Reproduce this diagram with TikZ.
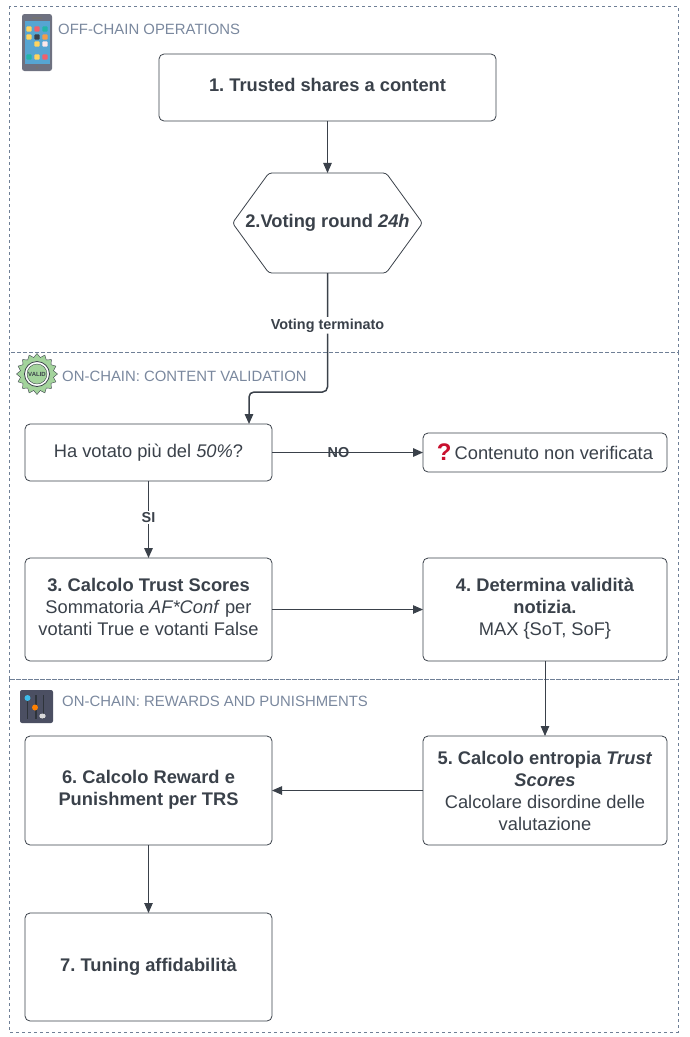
\documentclass[tikz,border=0pt]{standalone}
\usepackage{fontspec}
\setmainfont{Liberation Sans}
\usetikzlibrary{arrows.meta,positioning,shapes.geometric,shapes.symbols}
\definecolor{ink}{HTML}{3A414A}
\definecolor{zoneline}{HTML}{6F7F96}
\definecolor{zonetext}{HTML}{7A889E}
\definecolor{phonebody}{HTML}{6E7180}
\definecolor{phonescreen}{HTML}{56A5D2}
\definecolor{validgreen}{HTML}{A3D39C}
\definecolor{slidebg}{HTML}{4B4F62}
\definecolor{warnred}{HTML}{C8102E}
\definecolor{appa}{HTML}{FFD45E}
\definecolor{appb}{HTML}{F0606B}
\definecolor{appc}{HTML}{22B5A8}
\definecolor{appd}{HTML}{F39C4A}
\definecolor{knob}{HTML}{3DBDEB}
\newcommand{\PX}[1]{\fontsize{#1}{22}\selectfont}
\newcommand{\LIFT}{\\[-17.5pt]\mbox{}}
\frenchspacing

\begin{document}
\begin{tikzpicture}[
  x=1pt, y=-1pt,
  stepbox/.style={draw=ink, line width=0.8pt, rounded corners=5pt, minimum width=247pt, minimum height=103pt,
               inner sep=0pt, outer sep=0pt, align=center,
               text=ink, font=\PX{18.3}},
  zone/.style={draw=zoneline, line width=0.8pt, dash pattern=on 3pt off 3pt},
  zonelabel/.style={anchor=west, text=zonetext, font=\PX{14.9}, inner sep=0pt},
  link/.style={-{Triangle[length=10pt,width=8.5pt]}, ink, line width=0.8pt},
  boldlink/.style={link, line width=1.5pt},
  edgelabel/.style={font=\PX{14.4}\bfseries, text=ink, inner sep=1.5pt}
]
  \useasboundingbox (0,0) rectangle (689,1037);

  % Zones
  \draw[zone] (9,6) rectangle (678,352);
  \draw[zone] (9,352) rectangle (678,679);
  \draw[zone] (9,679) rectangle (678,1032);

  \node[zonelabel] (offlabel) at (58,29) {OFF-CHAIN OPERATIONS};
  \node[zonelabel] (validlabel) at (62,376) {ON-CHAIN: CONTENT VALIDATION};
  \node[zonelabel] (rewardlabel) at (62,701) {ON-CHAIN: REWARDS AND PUNISHMENTS};

  % Phone icon
  \fill[phonebody, rounded corners=2.5pt] (22,14) rectangle (52,71);
  \fill[phonescreen] (24.5,21) rectangle (49.5,64);
  \fill[black!55] (32,17) rectangle (42,18.5);
  \fill[black!55] (37,67.5) circle (1.5);
  \foreach \x/\y/\c in {29/29/appa, 37/29/appb, 45/29/appc,
                        29/37/appa, 37/37/ink, 45/37/appd,
                        29/44/phonescreen, 37/44/appa, 45/44/appb!15,
                        29/57/appc, 37/57/appa, 45/57/appb}
    \fill[\c, rounded corners=1pt] (\x-2.7,\y-2.7) rectangle (\x+2.7,\y+2.7);

  % Valid badge
  \node[star, star points=16, star point ratio=1.22, minimum size=41pt, inner sep=0pt,
        draw=ink, fill=validgreen] (badge) at (37,374) {};
  \draw[ink, line width=0.8pt, fill=white] (badge.center) circle (12.5);
  \node[circle, draw=ink, fill=validgreen, minimum size=20pt, inner sep=0pt,
        font=\PX{6}\bfseries, text=ink] (badgetext) at (badge.center) {VALID};

  % Sliders icon
  \fill[slidebg, rounded corners=2pt] (20,690) rectangle (53,723);
  \foreach \x in {27.5,36,43.5}
    \draw[ink!80!black, line width=1.4pt] (\x,695) -- (\x,719);
  \fill[knob] (27.5,698) circle (3);
  \fill[orange] (35,707.5) circle (3);
  \fill[black!15] (42.5,716) ellipse (3.2 and 2.5);

  % Steps
  \node[stepbox, minimum width=337pt, minimum height=67pt] (trust) at (327.5,87.5) {\textbf{1. Trusted shares a content}\LIFT};
  \node[draw=ink, line width=0.8pt, signal, signal to=east and west, signal pointer angle=108, rounded corners=3pt,
        minimum width=190pt, minimum height=100pt, inner sep=0pt, outer sep=0pt,
        below=52pt of trust, label={[text=ink, font=\PX{18.3}]center:\textbf{2.Voting round \textit{24h}}}] (voting) {};

  \node[stepbox, minimum height=57pt] (verify) at (148.5,452.5) {Ha votato più del \textit{50\%}?};
  \node[stepbox, minimum width=244pt, minimum height=39pt, right=151pt of verify] (unverified)
    {\raisebox{-1.5pt}{\textcolor{warnred}{\PX{24}\textbf{?}}}\,Contenuto non verificata};

  \node[stepbox, below=77pt of verify] (scores)
    {\textbf{3. Calcolo Trust Scores}\\Sommatoria \textit{AF*Conf} per\\votanti True e votanti False\LIFT};
  \node[stepbox, minimum width=244pt, right=151pt of scores] (validity)
    {\textbf{4. Determina validità}\\\textbf{notizia.}\\MAX \{SoT, SoF\}\LIFT};

  \node[stepbox, minimum width=244pt, minimum height=109pt, below=75pt of validity] (entropy)
    {\textbf{5. Calcolo entropia \textit{Trust}}\\\textbf{\textit{Scores}}\\Calcolare disordine delle\\valutazione};
  \node[stepbox, minimum height=109pt, left=151pt of entropy] (reward)
    {\textbf{6. Calcolo Reward e}\\\textbf{Punishment per TRS}\LIFT};
  \node[stepbox, minimum height=108pt, below=68pt of reward] (tuning)
    {\textbf{7. Tuning affidabilità}};

  % Arrows
  \coordinate (bend) at (249,392);
  \draw[link] (trust) -- (voting);
  \draw[boldlink, rounded corners=5pt] (voting.south) |- node[pos=0.22, edgelabel, fill=white] {Voting terminato} (bend) -- (bend |- verify.north);
  \draw[boldlink] (verify) -- node[edgelabel, pos=0.44] {NO} (unverified);
  \draw[boldlink] (verify) -- node[edgelabel, fill=white, pos=0.47] {SI} (scores);
  \draw[link] (scores) -- (validity);
  \draw[link] (validity) -- (entropy);
  \draw[link] (entropy) -- (reward);
  \draw[link] (reward) -- (tuning);
\end{tikzpicture}
\end{document}
